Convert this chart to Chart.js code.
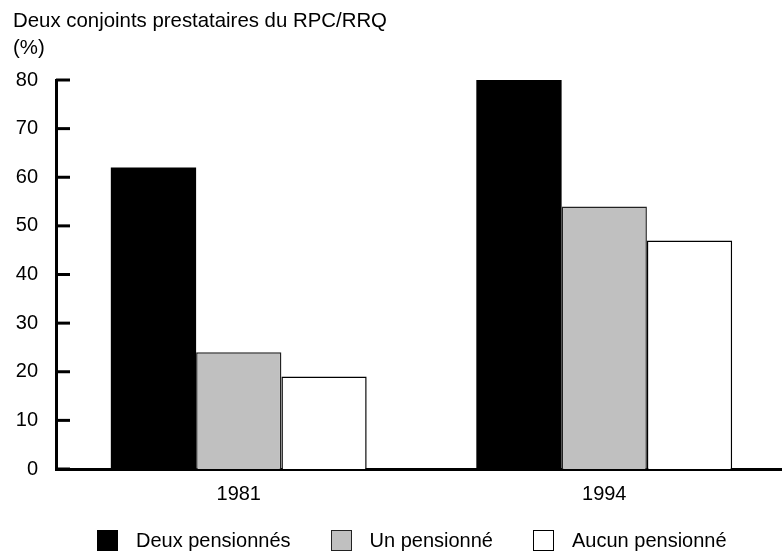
<!DOCTYPE html>
<html>
<head>
<meta charset="utf-8">
<script src="https://cdn.jsdelivr.net/npm/chart.js@4"></script>
<style>
  body { margin: 0; background: #fff; font-family: "Liberation Sans", Arial, sans-serif; }
  #wrap { position: relative; width: 782px; height: 552px; overflow: hidden; }
  #title { position: absolute; left: 13px; top: 7px; font-size: 20.4px; line-height: 27px; color: #000; }
  #legend { position: absolute; left: 97px; top: 529px; display: flex; font-size: 20px; color: #000; }
  .item { display: flex; align-items: center; margin-right: 40px; }
  .box { width: 21px; height: 21px; box-sizing: border-box; margin-right: 18px; }
</style>
</head>
<body>
<div id="wrap">
  <canvas id="chart" width="787" height="552"></canvas>
  <div id="title">Deux conjoints prestataires du RPC/RRQ<br>(%)</div>
  <div id="legend"></div>
</div>
<script>
let years = ['1981', '1994'];
let seriesNames = ['Deux pensionnés', 'Un pensionné', 'Aucun pensionné'];
let deuxPensionnes = [62, 80];
let unPensionne = [24, 54];
let aucunPensionne = [19, 47];
let yTicks = [0, 10, 20, 30, 40, 50, 60, 70, 80];

let fills = ['#000000', '#c0c0c0', '#ffffff'];
let borders = ['#000000', '#222222', '#000000'];
let values = [deuxPensionnes, unPensionne, aucunPensionne];

// tick marks drawn inside the plot, to the right of the y axis
let innerTicks = {
    id: 'innerTicks',
    afterDatasetsDraw(chart) {
        let ctx = chart.ctx, y = chart.scales.y, left = chart.chartArea.left;
        ctx.save();
        ctx.strokeStyle = '#000';
        ctx.lineWidth = 3;
        for (let v of yTicks) {
            let py = y.getPixelForValue(v);
            ctx.beginPath();
            ctx.moveTo(left, py);
            ctx.lineTo(left + 14, py);
            ctx.stroke();
        }
        ctx.restore();
    }
};

new Chart(document.getElementById('chart').getContext('2d'), {
    type: 'bar',
    data: {
        labels: years,
        datasets: seriesNames.map((name, i) => ({
            label: name,
            data: values[i],
            backgroundColor: fills[i],
            borderColor: borders[i],
            borderWidth: i == 0 ? 0 : 1.5,
            categoryPercentage: 0.70,
            barPercentage: 1
        }))
    },
    options: {
        responsive: false,
        animation: false,
        layout: { padding: { top: 80, right: 0, bottom: 33, left: 0 } },
        plugins: { legend: { display: false }, tooltip: { enabled: false } },
        scales: {
            x: {
                grid: { display: false, drawTicks: false },
                border: { color: '#000', width: 3 },
                ticks: { color: '#000', font: { family: 'Liberation Sans', size: 20 }, padding: 13 }
            },
            y: {
                min: 0,
                max: 80,
                afterBuildTicks: s => { s.ticks = yTicks.map(v => ({ value: v })); },
                afterFit: s => { s.width = 56; },
                grid: { display: false, drawTicks: false },
                border: { color: '#000', width: 3 },
                ticks: { color: '#000', font: { family: 'Liberation Sans', size: 20 }, padding: 18 }
            }
        }
    },
    plugins: [innerTicks]
});

// legend
let legend = document.getElementById('legend');
seriesNames.forEach((name, i) => {
    let item = document.createElement('div');
    item.className = 'item';
    let box = document.createElement('span');
    box.className = 'box';
    box.style.background = fills[i];
    box.style.border = i == 0 ? 'none' : '1.5px solid ' + borders[i];
    let txt = document.createElement('span');
    txt.textContent = name;
    item.appendChild(box);
    item.appendChild(txt);
    legend.appendChild(item);
});
</script>
</body>
</html>
